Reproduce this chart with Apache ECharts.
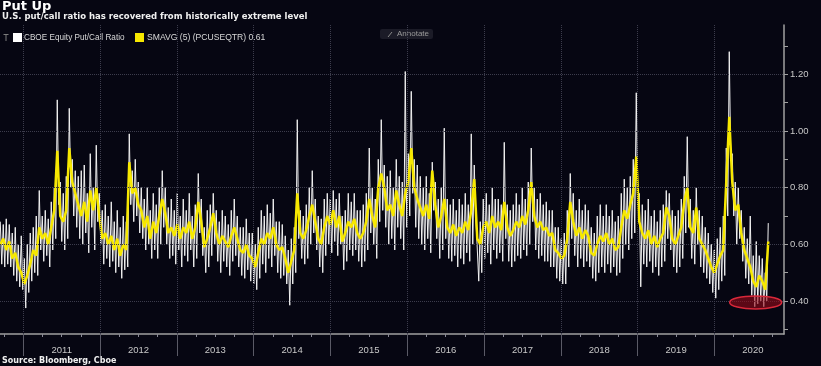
<!DOCTYPE html>
<html><head><meta charset="utf-8">
<script src="https://cdn.jsdelivr.net/npm/echarts@6/dist/echarts.min.js"></script>
<style>html,body{margin:0;padding:0;background:#060612;}#c{width:821px;height:366px;}</style>
</head><body><div id="c"></div>
<script>
// time span of the data (decimal years)
const START_YEAR = 2010.70;
const END_YEAR = 2020.70;
const yearTicks = [2011,2012,2013,2014,2015,2016,2017,2018,2019,2020];
const yTickLabels = [0.40,0.60,0.80,1.00,1.20];
const yMinorTicks = [0.30,0.40,0.50,0.60,0.70,0.80,0.90,1.00,1.10,1.20,1.30];

// SMAVG (5) (PCUSEQTR), roughly every two weeks
const smavg5 = [
0.60,0.62,0.58,0.61,0.55,0.57,0.52,0.50,0.46,0.49,
0.53,0.58,0.56,0.66,0.62,0.64,0.60,0.66,0.72,0.93,
0.70,0.68,0.72,0.94,0.82,0.78,0.74,0.70,0.75,0.68,
0.79,0.72,0.80,0.70,0.62,0.64,0.60,0.63,0.58,0.62,
0.56,0.60,0.58,0.89,0.78,0.80,0.74,0.72,0.66,0.70,
0.62,0.68,0.64,0.70,0.76,0.71,0.64,0.66,0.63,0.67,
0.62,0.66,0.64,0.68,0.62,0.66,0.75,0.68,0.59,0.62,
0.66,0.71,0.64,0.60,0.63,0.61,0.59,0.63,0.66,0.62,
0.58,0.57,0.60,0.56,0.55,0.52,0.57,0.62,0.60,0.64,
0.62,0.66,0.60,0.58,0.59,0.55,0.50,0.54,0.58,0.78,
0.64,0.62,0.65,0.70,0.74,0.68,0.62,0.60,0.66,0.70,
0.67,0.72,0.66,0.70,0.61,0.64,0.68,0.66,0.69,0.64,
0.62,0.64,0.68,0.76,0.70,0.66,0.80,0.85,0.80,0.72,
0.74,0.70,0.79,0.74,0.70,0.78,0.82,0.94,0.80,0.76,
0.73,0.70,0.74,0.69,0.86,0.74,0.66,0.70,0.76,0.66,
0.64,0.67,0.63,0.66,0.64,0.68,0.65,0.72,0.83,0.62,
0.60,0.66,0.68,0.64,0.70,0.66,0.68,0.65,0.75,0.66,
0.63,0.65,0.68,0.66,0.70,0.67,0.72,0.82,0.70,0.66,
0.68,0.65,0.66,0.63,0.64,0.58,0.57,0.55,0.56,0.62,
0.75,0.68,0.63,0.66,0.62,0.65,0.63,0.57,0.56,0.60,
0.63,0.61,0.64,0.60,0.62,0.58,0.59,0.66,0.72,0.69,
0.74,0.78,0.91,0.68,0.64,0.62,0.65,0.60,0.63,0.59,
0.62,0.64,0.73,0.70,0.62,0.60,0.63,0.66,0.75,0.80,
0.66,0.64,0.73,0.62,0.60,0.58,0.55,0.52,0.50,0.53,
0.56,0.58,0.82,1.05,0.82,0.72,0.74,0.64,0.58,0.55,
0.52,0.47,0.45,0.49,0.47,0.44,0.61
];

// CBOE Equity Put/Call Ratio, roughly weekly
const putCall = [
0.68,0.53,0.67,0.52,0.69,0.53,0.67,0.52,0.64,0.49,0.66,0.47,0.60,0.45,0.63,0.44,0.55,0.375,0.60,0.43,
0.64,0.47,0.66,0.50,0.70,0.49,0.79,0.58,0.70,0.54,0.72,0.56,0.69,0.52,0.75,0.58,0.80,0.62,1.11,0.74,
0.82,0.61,0.78,0.58,0.84,0.62,1.08,0.80,0.90,0.70,0.86,0.66,0.84,0.62,0.86,0.60,0.88,0.64,0.78,0.57,
0.92,0.66,0.80,0.58,0.95,0.68,0.78,0.60,0.72,0.53,0.74,0.55,0.70,0.52,0.75,0.54,0.68,0.50,0.72,0.52,
0.66,0.48,0.70,0.51,0.68,0.52,0.99,0.74,0.86,0.68,0.90,0.70,0.82,0.64,0.80,0.62,0.76,0.58,0.80,0.60,
0.72,0.55,0.78,0.58,0.74,0.55,0.80,0.60,0.86,0.66,0.80,0.60,0.73,0.55,0.76,0.56,0.72,0.53,0.78,0.58,
0.70,0.52,0.76,0.56,0.72,0.54,0.78,0.58,0.70,0.52,0.74,0.55,0.85,0.64,0.76,0.56,0.66,0.50,0.72,0.52,
0.74,0.56,0.78,0.60,0.72,0.54,0.68,0.50,0.72,0.54,0.70,0.52,0.67,0.49,0.72,0.54,0.76,0.56,0.70,0.52,
0.66,0.49,0.66,0.48,0.69,0.51,0.64,0.47,0.64,0.46,0.60,0.44,0.66,0.48,0.72,0.53,0.70,0.50,0.74,0.55,
0.71,0.52,0.76,0.56,0.68,0.50,0.68,0.48,0.67,0.49,0.63,0.46,0.58,0.385,0.62,0.46,0.66,0.50,1.04,0.62,
0.72,0.55,0.70,0.53,0.74,0.55,0.80,0.60,0.86,0.64,0.76,0.58,0.70,0.52,0.69,0.50,0.76,0.56,0.78,0.60,
0.76,0.57,0.79,0.61,0.76,0.56,0.78,0.60,0.70,0.51,0.72,0.54,0.78,0.58,0.75,0.56,0.78,0.58,0.72,0.54,
0.72,0.52,0.74,0.54,0.78,0.58,0.94,0.64,0.80,0.60,0.76,0.55,0.90,0.68,1.04,0.72,0.88,0.66,0.84,0.60,
0.86,0.62,0.80,0.58,0.90,0.66,0.84,0.62,0.82,0.58,1.21,0.66,0.92,0.70,1.14,0.78,0.90,0.66,0.88,0.62,
0.84,0.60,0.80,0.58,0.84,0.62,0.78,0.57,0.89,0.72,0.82,0.62,0.76,0.55,0.80,0.58,1.01,0.62,0.76,0.55,
0.74,0.54,0.76,0.56,0.72,0.52,0.76,0.55,0.74,0.53,0.78,0.57,0.74,0.54,0.99,0.60,0.88,0.70,0.70,0.47,
0.68,0.50,0.76,0.55,0.78,0.57,0.74,0.53,0.80,0.58,0.76,0.55,0.76,0.57,0.74,0.54,0.96,0.62,0.74,0.54,
0.72,0.52,0.74,0.54,0.78,0.56,0.74,0.55,0.80,0.58,0.76,0.56,0.82,0.60,0.94,0.68,0.80,0.58,0.76,0.55,
0.78,0.56,0.74,0.54,0.75,0.54,0.72,0.52,0.72,0.52,0.66,0.48,0.66,0.47,0.62,0.46,0.64,0.46,0.72,0.52,
0.85,0.62,0.78,0.56,0.72,0.52,0.76,0.55,0.72,0.52,0.74,0.54,0.72,0.52,0.66,0.48,0.64,0.47,0.70,0.50,
0.74,0.52,0.70,0.50,0.74,0.53,0.70,0.50,0.72,0.52,0.68,0.49,0.70,0.50,0.78,0.55,0.83,0.60,0.80,0.58,
0.84,0.62,0.90,0.64,1.135,0.74,0.78,0.45,0.74,0.53,0.72,0.52,0.76,0.54,0.70,0.50,0.72,0.52,0.68,0.49,
0.72,0.52,0.74,0.54,0.79,0.62,0.78,0.58,0.72,0.52,0.70,0.50,0.72,0.52,0.76,0.55,0.84,0.64,0.98,0.66,
0.76,0.55,0.72,0.53,0.80,0.60,0.72,0.52,0.70,0.50,0.66,0.48,0.64,0.46,0.60,0.43,0.58,0.41,0.62,0.44,
0.66,0.47,0.70,0.49,0.94,0.70,1.28,0.90,0.92,0.70,0.82,0.60,0.80,0.62,0.72,0.54,0.66,0.48,0.62,0.46,
0.70,0.42,0.56,0.38,0.61,0.39,0.56,0.40,0.55,0.38,0.50,0.40,0.675
];

const X_MIN = 2010.6966, X_MAX = 2020.905;
const Y_MIN = 0.2835, Y_MAX = 1.3742;

function toXY(arr){
  const n = arr.length;
  return arr.map((v,i)=>[START_YEAR + i*(END_YEAR-START_YEAR)/(n-1), v]);
}
const quarterTicks = [];
for (let y = 2010; y <= 2020; y++) [0.25,0.5,0.75].forEach(q => { if (y+q > X_MIN && y+q < X_MAX) quarterTicks.push(y+q); });

const chart = echarts.init(document.getElementById('c'), null, {renderer:'canvas'});
const axisColor = '#a0a0a0';
const labelColor = '#c8c8c8';
const gridDot = {type:'dotted', color:'#3c3c4c', width:1};

const option = {
  backgroundColor:'#060612',
  animation:false,
  grid:{left:0, right:37, top:25, bottom:32, containLabel:false, outerBoundsMode:'none'},
  xAxis:[{
    type:'value', min:X_MIN, max:X_MAX,
    axisLine:{show:true, lineStyle:{color:axisColor, width:1.5}},
    axisTick:{show:true, customValues:yearTicks, length:22, lineStyle:{color:'#5a5a66'}},
    axisLabel:{customValues:yearTicks.map(y=>y+0.5), formatter:v=>String(Math.floor(v)), color:labelColor, fontSize:9.5, fontFamily:'Liberation Sans', margin:11},
    splitLine:{show:false}
  },{
    type:'value', min:X_MIN, max:X_MAX, position:'bottom',
    axisLine:{show:false},
    axisTick:{show:true, customValues:quarterTicks, length:3, lineStyle:{color:'#8a8a96'}},
    axisLabel:{show:false}, splitLine:{show:false}
  }],
  yAxis:{
    type:'value', position:'right', min:Y_MIN, max:Y_MAX,
    axisLine:{show:true, lineStyle:{color:axisColor, width:1.5}},
    axisTick:{show:true, customValues:yMinorTicks, length:4, lineStyle:{color:axisColor}},
    axisLabel:{customValues:yTickLabels, formatter:v=>v.toFixed(2), color:labelColor, fontSize:9.5, fontFamily:'Liberation Sans', margin:6},
    splitLine:{show:false},
    name:'Ratio', nameLocation:'middle', nameRotate:-90, nameGap:30,
    nameTextStyle:{color:labelColor, fontSize:10, fontFamily:'Liberation Sans'}
  },
  series:[
    {type:'line', data:[], silent:true,
     markLine:{silent:true, symbol:['none','none'], label:{show:false}, lineStyle:gridDot,
       data: yearTicks.map(y=>({xAxis:y})).concat(yTickLabels.map(v=>({yAxis:v})))}},
    {name:'CBOE Equity Put/Call Ratio', type:'line', data:toXY(putCall), showSymbol:false, symbol:'none',
     lineStyle:{color:'#f2f2f2', width:1}, itemStyle:{color:'#f2f2f2'}},
    {name:'SMAVG (5) (PCUSEQTR)', type:'line', data:toXY(smavg5), showSymbol:false, symbol:'none',
     lineStyle:{color:'#f7e800', width:2.5}, itemStyle:{color:'#f7e800'}}
  ]
};
chart.setOption(option);

const c = chart.convertToPixel({xAxisIndex:0, yAxisIndex:0}, [2020.536, 0.395]);
const txtFont = 'Liberation Sans';
chart.setOption({graphic:[
  {type:'text', left:2, top:0, style:{text:'Put Up', fill:'#ffffff', font:'bold 13px "DejaVu Sans"'}},
  {type:'text', left:2, top:12, style:{text:'U.S. put/call ratio has recovered from historically extreme level', fill:'#f0f0f0', font:'bold 8.5px "DejaVu Sans"'}},
  {type:'line', shape:{x1:6,y1:34,x2:6,y2:41}, style:{stroke:'#7a7a7a', lineWidth:1}},
  {type:'line', shape:{x1:3.5,y1:34.5,x2:8.5,y2:34.5}, style:{stroke:'#7a7a7a', lineWidth:1}},
  {type:'rect', shape:{x:13,y:33,width:9,height:9}, style:{fill:'#ffffff'}},
  {type:'text', x:24, y:37.5, style:{text:'CBOE Equity Put/Call Ratio', fill:'#d8d8d8', font:'8.2px "'+txtFont+'"', verticalAlign:'middle'}},
  {type:'rect', shape:{x:135,y:33,width:9,height:9}, style:{fill:'#f7e800'}},
  {type:'text', x:147, y:37.5, style:{text:'SMAVG (5) (PCUSEQTR) 0.61', fill:'#d8d8d8', font:'8.6px "'+txtFont+'"', verticalAlign:'middle'}},
  {type:'rect', shape:{x:380,y:29,width:53,height:10,r:2}, style:{fill:'#1b1b27'}},
  {type:'line', shape:{x1:388,y1:37,x2:392,y2:32}, style:{stroke:'#8a8a8a', lineWidth:1}},
  {type:'text', x:397, y:34, style:{text:'Annotate', fill:'#9a9a9a', font:'8px "'+txtFont+'"', verticalAlign:'middle'}},
  {type:'ellipse', shape:{cx:c[0], cy:c[1], rx:26, ry:6.5}, style:{fill:'rgba(150,10,25,0.6)', stroke:'#d8283a', lineWidth:1.5}, z:100},
  {type:'text', left:2, top:357, style:{text:'Source: Bloomberg, Cboe', fill:'#f0f0f0', font:'bold 8px "DejaVu Sans"'}}
]});
</script>
</body></html>
